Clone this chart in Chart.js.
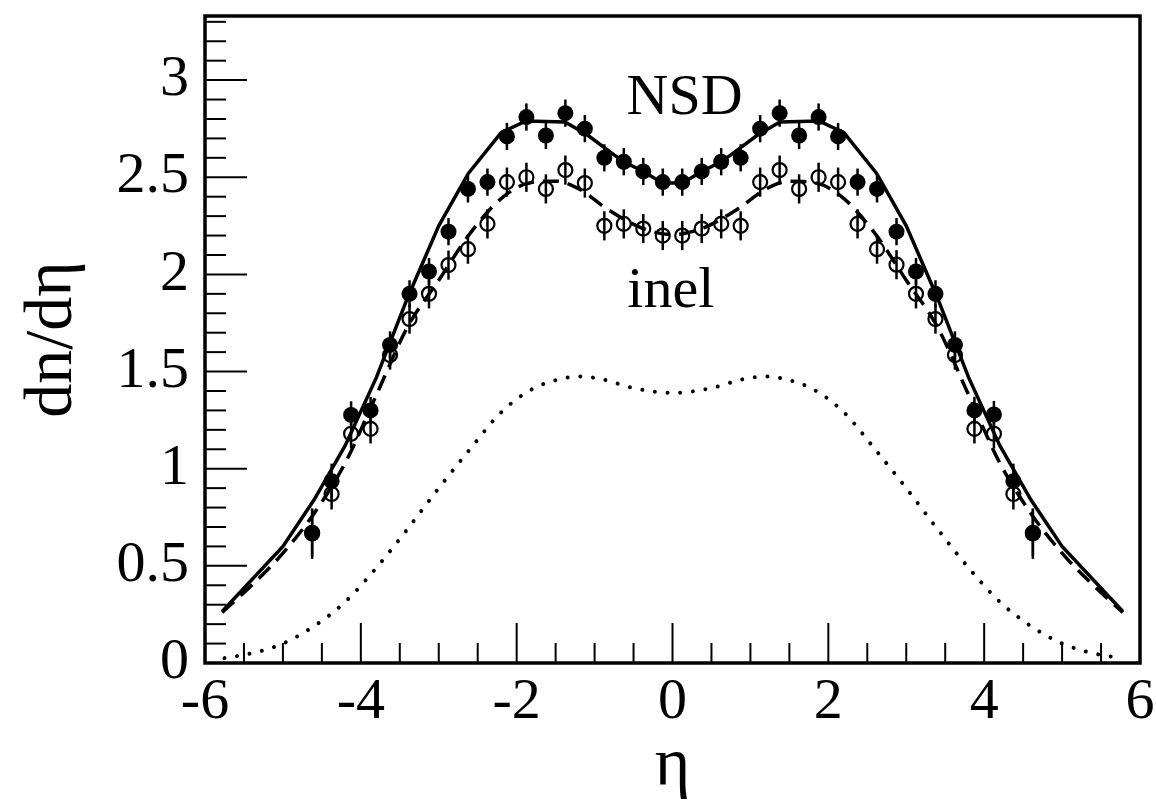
<!DOCTYPE html>
<html lang="en">
<head>
<meta charset="UTF-8">
<title>dn/deta</title>
<script src="https://cdn.jsdelivr.net/npm/chart.js"></script>
<style>
  html, body { margin: 0; padding: 0; background: #fff; }
</style>
</head>
<body>
<canvas id="myChart" width="1156" height="809"></canvas>
<script>
// measured bins in eta
const etaBins = [-4.625, -4.375, -4.125, -3.875, -3.625, -3.375, -3.125, -2.875, -2.625, -2.375,
                 -2.125, -1.875, -1.625, -1.375, -1.125, -0.875, -0.625, -0.375, -0.125,
                 0.125, 0.375, 0.625, 0.875, 1.125, 1.375, 1.625, 1.875, 2.125, 2.375,
                 2.625, 2.875, 3.125, 3.375, 3.625, 3.875, 4.125, 4.375, 4.625];
// NSD data (filled circles)
const nsdData = [0.666, 0.936, 1.277, 1.30, 1.637, 1.90, 2.015, 2.22, 2.44, 2.475,
                 2.71, 2.81, 2.715, 2.83, 2.75, 2.60, 2.58, 2.53, 2.475,
                 2.475, 2.53, 2.58, 2.60, 2.75, 2.83, 2.715, 2.81, 2.71, 2.475,
                 2.44, 2.22, 2.015, 1.90, 1.637, 1.30, 1.279, 0.936, 0.666];
const nsdErr = [0.13, 0.09, 0.07, 0.07, 0.07, 0.07, 0.07, 0.07, 0.07, 0.07,
                0.07, 0.07, 0.07, 0.07, 0.07, 0.07, 0.07, 0.07, 0.07,
                0.07, 0.07, 0.07, 0.07, 0.07, 0.07, 0.07, 0.07, 0.07, 0.07,
                0.07, 0.07, 0.07, 0.07, 0.07, 0.07, 0.07, 0.09, 0.13];
// inelastic data (open circles)
const inelData = [0.67, 0.87, 1.18, 1.205, 1.585, 1.77, 1.90, 2.048, 2.13, 2.26,
                  2.475, 2.50, 2.44, 2.537, 2.47, 2.25, 2.26, 2.236, 2.20,
                  2.20, 2.236, 2.26, 2.25, 2.475, 2.537, 2.44, 2.50, 2.475, 2.26,
                  2.13, 2.05, 1.90, 1.77, 1.585, 1.205, 1.18, 0.87, 0.67];
const inelErr = [0.12, 0.08, 0.075, 0.075, 0.075, 0.075, 0.075, 0.075, 0.075, 0.075,
                 0.075, 0.075, 0.075, 0.075, 0.075, 0.075, 0.075, 0.075, 0.075,
                 0.075, 0.075, 0.075, 0.075, 0.075, 0.075, 0.075, 0.075, 0.075, 0.075,
                 0.075, 0.075, 0.075, 0.075, 0.075, 0.075, 0.075, 0.08, 0.12];

// model curves
const nsdCurveEta = [-5.78, -5.0, -4.6, -4.2, -3.8, -3.4, -3.0, -2.62, -2.2, -1.88, -1.38, -1.1,
                     -0.75, -0.62, -0.38, -0.125, 0.125, 0.38, 0.62, 0.75, 1.1, 1.38, 1.88, 2.2,
                     2.62, 3.0, 3.4, 3.8, 4.2, 4.6, 5.0, 5.78];
const nsdCurve = [0.265, 0.60, 0.84, 1.12, 1.47, 1.88, 2.25, 2.52, 2.73, 2.79, 2.785, 2.72,
                  2.615, 2.58, 2.53, 2.47, 2.47, 2.53, 2.58, 2.615, 2.72, 2.785, 2.79, 2.73,
                  2.52, 2.25, 1.88, 1.47, 1.12, 0.84, 0.60, 0.265];
const inelCurveEta = [-5.78, -5.4, -5.0, -4.6, -4.2, -3.8, -3.4, -3.0, -2.6, -2.2, -1.85, -1.5,
                      -1.2, -0.85, -0.4, 0, 0.4, 0.85, 1.2, 1.5, 1.85, 2.2, 2.6, 3.0, 3.4,
                      3.8, 4.2, 4.6, 5.0, 5.4, 5.78];
const inelCurve = [0.26, 0.40, 0.565, 0.77, 1.03, 1.38, 1.73, 1.97, 2.21, 2.39, 2.47, 2.48,
                   2.44, 2.34, 2.24, 2.205, 2.24, 2.34, 2.44, 2.48, 2.47, 2.39, 2.21, 1.97, 1.73,
                   1.38, 1.03, 0.77, 0.565, 0.40, 0.26];
const dotCurveEta = [-5.75, -5.4, -5.0, -4.6, -4.2, -3.8, -3.4, -3.0, -2.6, -2.2, -1.8, -1.4,
                     -1.2, -0.9, -0.5, 0, 0.5, 0.9, 1.2, 1.4, 1.8, 2.2, 2.6, 3.0, 3.4, 3.8,
                     4.2, 4.6, 5.0, 5.4, 5.75];
const dotCurve = [0.025, 0.05, 0.10, 0.19, 0.315, 0.49, 0.69, 0.90, 1.10, 1.29, 1.41, 1.465,
                  1.475, 1.46, 1.415, 1.39, 1.415, 1.46, 1.475, 1.465, 1.41, 1.29, 1.10, 0.90,
                  0.69, 0.49, 0.315, 0.19, 0.10, 0.05, 0.025];

const xTicks = [-6, -4, -2, 0, 2, 4, 6];
const yTicks = [0, 0.5, 1, 1.5, 2, 2.5, 3];
const notes = [{ text: 'NSD', x: -0.59, y: 2.826 }, { text: 'inel', x: -0.58, y: 1.83 }];

const pts = (xs, ys) => xs.map((x, i) => ({ x: x, y: ys[i] }));
const serif = 'Liberation Serif, Times New Roman, serif';

// frame, inward ticks, error bars, text labels
const decor = {
    id: 'decor',
    afterDatasetsDraw(chart) {
        const { ctx, chartArea: a, scales: { x, y } } = chart;
        ctx.save();
        ctx.strokeStyle = '#000';
        ctx.lineCap = 'butt';

        // error bars
        ctx.lineWidth = 2.5;
        [[nsdData, nsdErr], [inelData, inelErr]].forEach(([vals, errs]) => {
            etaBins.forEach((eta, i) => {
                const px = x.getPixelForValue(eta);
                ctx.beginPath();
                ctx.moveTo(px, y.getPixelForValue(vals[i] - errs[i]));
                ctx.lineTo(px, y.getPixelForValue(vals[i] + errs[i]));
                ctx.stroke();
            });
        });

        // ticks
        ctx.lineWidth = 2;
        for (let k = -12; k <= 12; k++) {
            const px = x.getPixelForValue(k * 0.5);
            const len = (k % 4 === 0) ? 40 : 20;
            ctx.beginPath();
            ctx.moveTo(px, a.bottom);
            ctx.lineTo(px, a.bottom - len);
            ctx.stroke();
        }
        for (let k = 0; k <= 33; k++) {
            const py = y.getPixelForValue(k / 10);
            const len = (k % 5 === 0) ? 42 : 21;
            ctx.beginPath();
            ctx.moveTo(a.left, py);
            ctx.lineTo(a.left + len, py);
            ctx.stroke();
        }

        // frame
        ctx.lineWidth = 3.5;
        ctx.strokeRect(a.left, a.top, a.right - a.left, a.bottom - a.top);

        // text labels
        ctx.fillStyle = '#000';
        ctx.font = '58px ' + serif;
        ctx.textAlign = 'left';
        ctx.textBaseline = 'alphabetic';
        notes.forEach(n => ctx.fillText(n.text, x.getPixelForValue(n.x), y.getPixelForValue(n.y)));
        ctx.restore();
    }
};

const tickFont = { family: serif, size: 58 };
const titleFont = { family: serif, size: 68 };

new Chart(document.getElementById('myChart').getContext('2d'), {
    type: 'scatter',
    data: {
        datasets: [
            {
                label: 'NSD data', data: pts(etaBins, nsdData), order: 1,
                pointRadius: 8, pointBackgroundColor: '#000', pointBorderWidth: 0, showLine: false
            },
            {
                label: 'inel data', data: pts(etaBins, inelData), order: 2,
                pointRadius: 7, pointBackgroundColor: 'rgba(0,0,0,0)', pointBorderColor: '#000',
                pointBorderWidth: 2.2, showLine: false
            },
            {
                label: 'NSD model', data: pts(nsdCurveEta, nsdCurve), order: 3,
                showLine: true, pointRadius: 0, borderColor: '#000', borderWidth: 3.5, tension: 0
            },
            {
                label: 'inel model', data: pts(inelCurveEta, inelCurve), order: 4,
                showLine: true, pointRadius: 0, borderColor: '#000', borderWidth: 3.5,
                borderDash: [16, 9], cubicInterpolationMode: 'monotone'
            },
            {
                label: 'other', data: pts(dotCurveEta, dotCurve), order: 5,
                showLine: true, pointRadius: 0, borderColor: '#000', borderWidth: 4,
                borderDash: [0.01, 12.7], borderCapStyle: 'round', cubicInterpolationMode: 'monotone'
            }
        ]
    },
    options: {
        responsive: false,
        animation: false,
        events: [],
        layout: { padding: { top: 16, right: 16, left: 0, bottom: 0 } },
        plugins: { legend: { display: false }, tooltip: { enabled: false } },
        scales: {
            x: {
                type: 'linear', min: -6, max: 6,
                afterBuildTicks: s => { s.ticks = xTicks.map(v => ({ value: v })); },
                afterFit: s => { s.height = 146; s.paddingLeft = 0; s.paddingRight = 0; },
                grid: { display: false, drawTicks: false },
                border: { display: false },
                ticks: { font: tickFont, color: '#000', padding: 5, maxRotation: 0, callback: v => String(v) },
                title: { display: true, text: 'η', font: titleFont, color: '#000', padding: { top: 0, bottom: 1 } }
            },
            y: {
                type: 'linear', min: 0, max: 3.33,
                afterBuildTicks: s => { s.ticks = yTicks.map(v => ({ value: v })); },
                afterFit: s => { s.width = 205; s.paddingTop = 0; s.paddingBottom = 0; },
                grid: { display: false, drawTicks: false },
                border: { display: false },
                ticks: { font: tickFont, color: '#000', padding: 16, callback: v => String(v) },
                title: { display: true, text: 'dn/dη', font: titleFont, color: '#000', padding: { top: 12, bottom: 0 } }
            }
        }
    },
    plugins: [decor]
});
</script>
</body>
</html>
